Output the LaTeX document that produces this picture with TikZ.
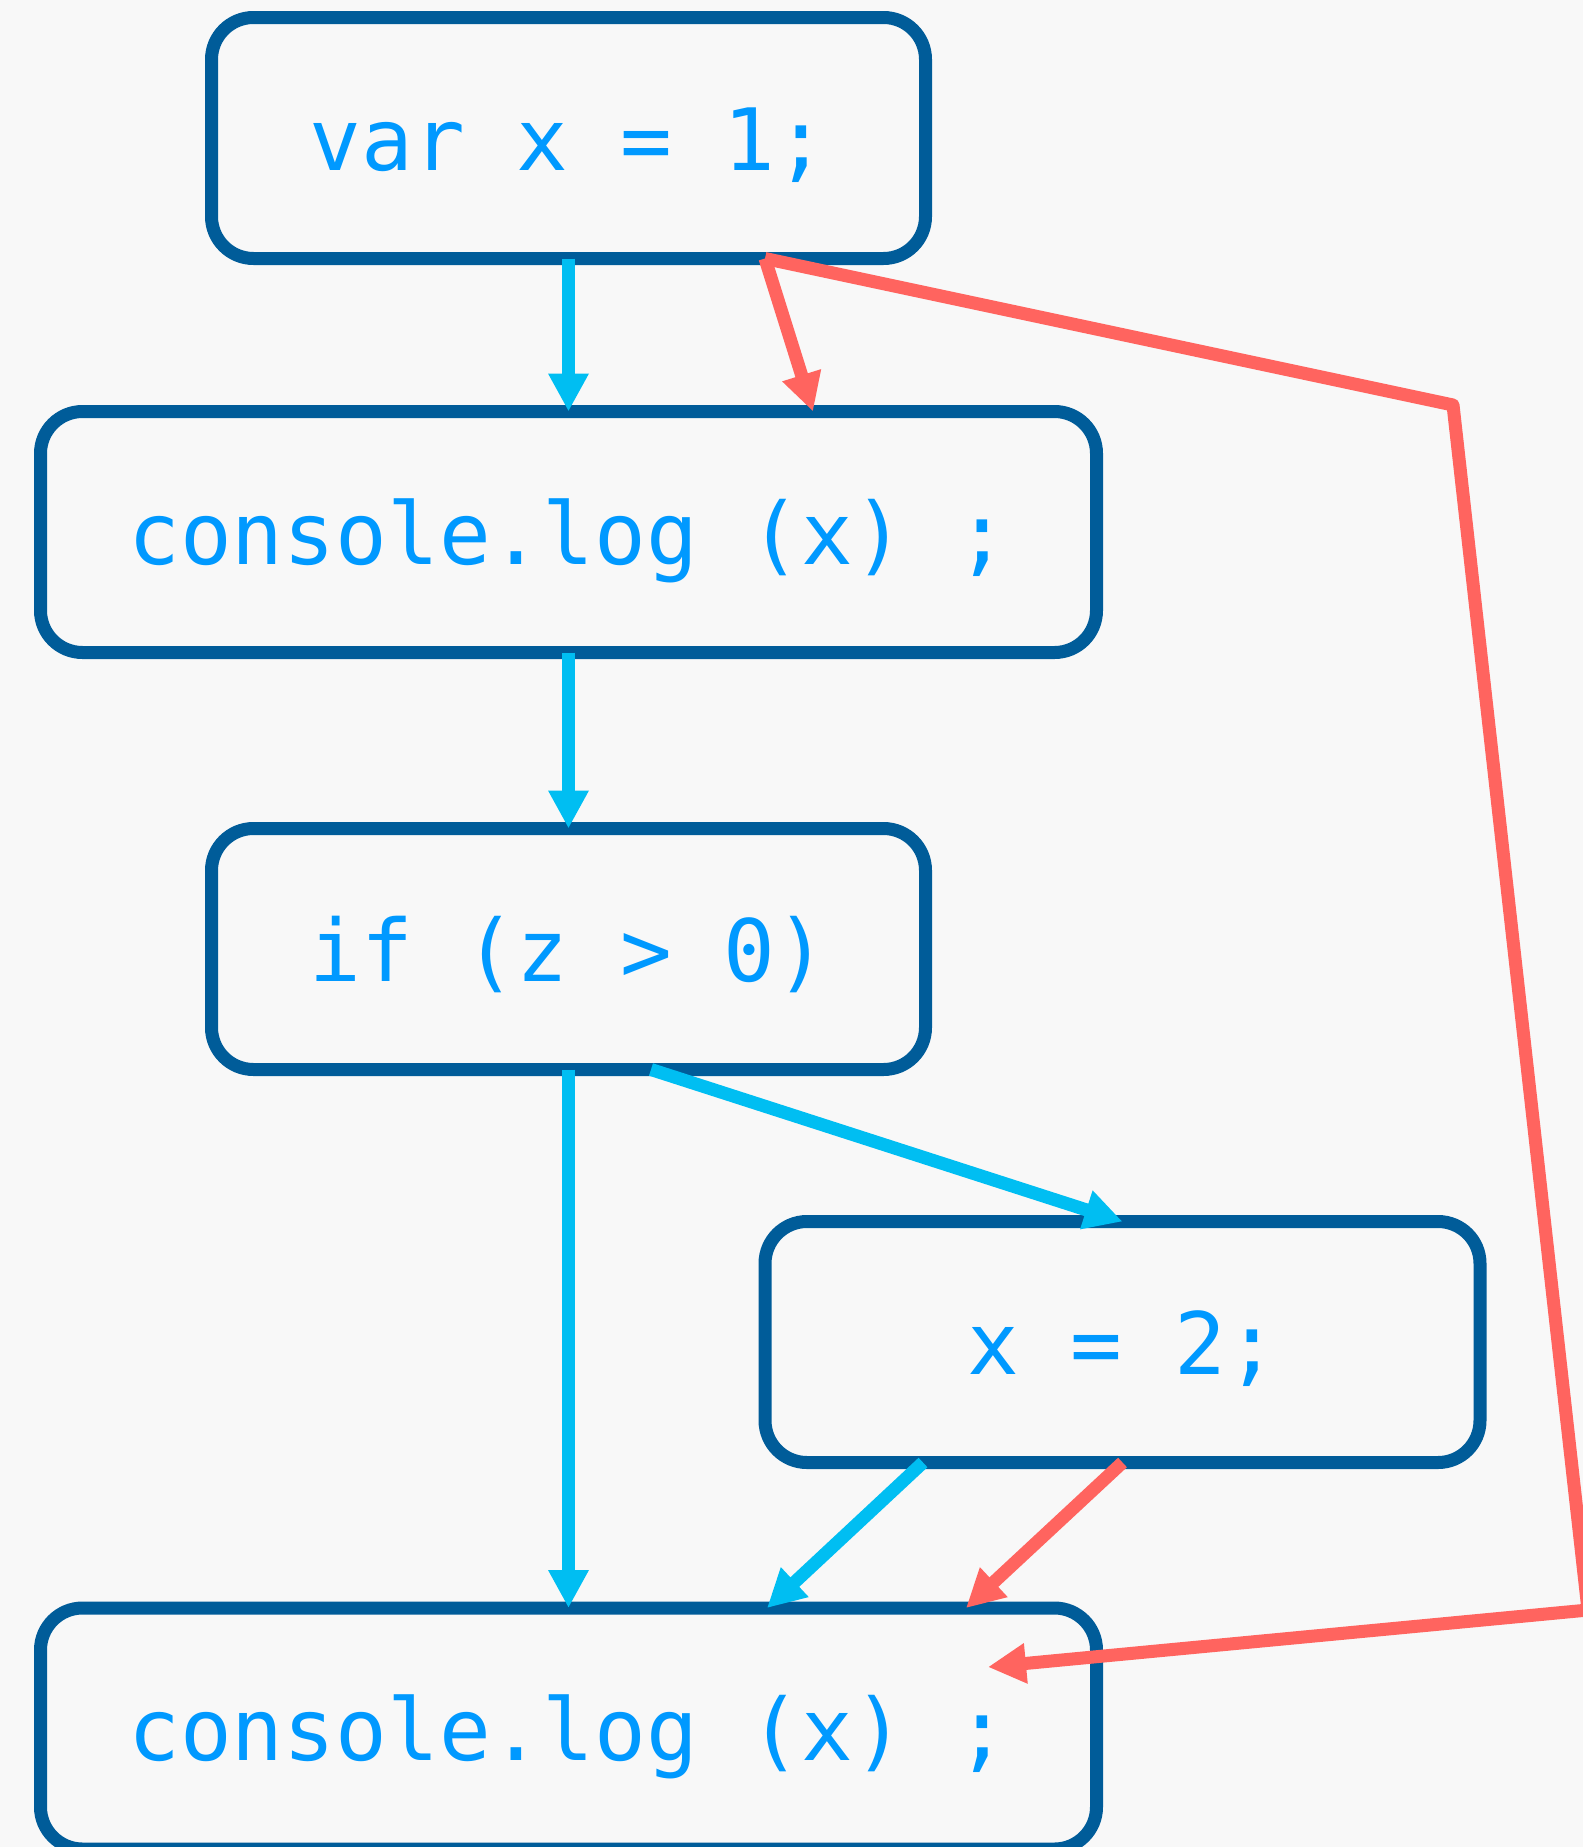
\documentclass[tikz,border=0pt]{standalone}
\usepackage{fontspec}
\setmonofont{DejaVu Sans Mono}
\usetikzlibrary{arrows.meta,calc}

\definecolor{bgcol}{RGB}{248,248,248}
\definecolor{boxline}{RGB}{0,92,153}
\definecolor{codetext}{RGB}{0,153,255}
\definecolor{flowcyan}{RGB}{0,190,242}
\definecolor{flowred}{RGB}{255,100,95}

\tikzset{
    codebox/.style={draw=boxline,
        line width=6.5pt,
        rounded corners=21pt,
        minimum height=120.5pt,
        inner sep=0pt,
        outer sep=0pt,
        text=codetext,
        text height=38pt,
        text depth=6pt,
        font=\ttfamily\fontsize{43}{50}\selectfont,
    },
    ctrl/.style={draw=flowcyan, line width=6.5pt,
        -{Triangle[length=19pt,width=19pt]}},
    dataflow/.style={draw=flowred, line width=6.5pt, line join=round,
        -{Triangle[length=19pt,width=19pt]}},
}

\begin{document}
\begin{tikzpicture}[x=0.5pt,y=-0.5pt]
    \useasboundingbox (0,0) rectangle (1583,1847);
    \fill[bgcol] (0,0) rectangle (1583,1847);

    % statements
    \node [codebox, minimum width=357pt] (varx) at (568.5,138) {var x = 1;};
    \node [codebox, minimum width=528pt] (logfirst) at (568.5,532) {console.log (x) ;};
    \node [codebox, minimum width=357pt] (ifz) at (568.5,949) {if (z > 0)};
    \node [codebox, minimum width=357.5pt] (xtwo) at (1122.5,1342) {x = 2;};
    \node [codebox, minimum width=528pt] (logsecond) at (568.5,1728.5) {console.log (x) ;};

    % bends of the long red path
    \coordinate (bendtop) at (1453,405);
    \coordinate (bendright) at (1588,1610);
    \coordinate (usetip) at (988,1667);

    % control flow
    \draw[ctrl] (varx.south) -- (logfirst.north);
    \draw[ctrl] (logfirst.south) -- (ifz.north);
    \draw[ctrl] (ifz.south) -- (logsecond.north);
    \draw[ctrl] ($(ifz.south)+(82.5,0)$) -- (xtwo.north);
    \draw[ctrl] ($(xtwo.south)+(-199.5,0)$) -- ($(logsecond.north)+(198.5,0)$);

    % data flow
    \draw[dataflow] ($(varx.south)+(196.5,0)$) -- ($(logfirst.north)+(244.5,0)$);
    \draw[dataflow] (xtwo.south) -- ($(logsecond.north)+(397.5,0)$);
    \draw[dataflow] ($(varx.south)+(196.5,0)$) -- (bendtop) -- (bendright) -- (usetip);
\end{tikzpicture}
\end{document}
